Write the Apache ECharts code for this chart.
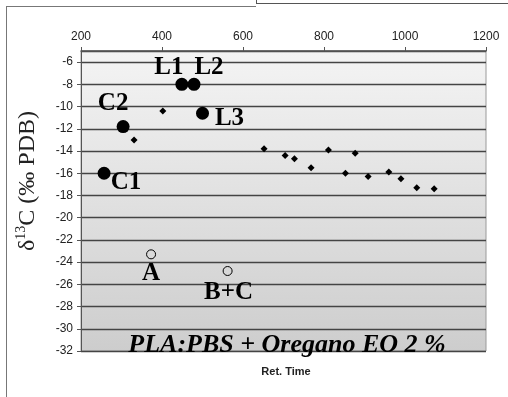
<!DOCTYPE html>
<html>
<head>
<meta charset="utf-8">
<script src="https://cdn.jsdelivr.net/npm/echarts@6/dist/echarts.min.js"></script>
<style>
  html, body { margin: 0; padding: 0; background: #fff; }
  #chart { width: 508px; height: 397px; }
</style>
</head>
<body>
<div id="chart"></div>
<script>
// Identified compounds (filled circles)
const compoundNames = ['C1', 'C2', 'L1', 'L2', 'L3'];
const compoundRetTime = [257, 304, 449, 479, 500];
const compoundDelta = [-16.0, -11.8, -8.0, -8.0, -10.6];

// Other volatile peaks (small diamonds)
const peakRetTime = [331, 402, 652, 704, 727, 768, 811, 853, 877, 909, 960, 990, 1029, 1072];
const peakDelta = [-13.0, -10.4, -13.8, -14.4, -14.7, -15.5, -13.9, -16.0, -14.2, -16.3, -15.9, -16.5, -17.3, -17.4];

// Reference points (open circles)
const refNames = ['A', 'B+C'];
const refRetTime = [373, 562];
const refDelta = [-23.3, -24.8];

// Axis ticks
const xTicks = [200, 400, 600, 800, 1000, 1200];
const yTicks = [-32, -30, -28, -26, -24, -22, -20, -18, -16, -14, -12, -10, -8, -6];

const chartTitle = 'PLA:PBS + Oregano EO 2 %';
const xTitle = 'Ret. Time';

// Label placement around each marker
const labelOffsets = {
  'C1': [22, 9], 'C2': [-10, -23], 'L1': [-13, -17], 'L2': [15, -17], 'L3': [27, 5],
  'A': [0, 19], 'B+C': [1, 22]
};

const serif = '"Liberation Serif", "Times New Roman", serif';
const sans = '"Liberation Sans", Arial, sans-serif';

function zip(xs, ys, names) {
  return xs.map((x, i) => {
    const d = { value: [x, ys[i]] };
    if (names) {
      d.name = names[i];
      d.label = { offset: labelOffsets[names[i]] };
    }
    return d;
  });
}

const chart = echarts.init(document.getElementById('chart'), null, { renderer: 'canvas' });

const labelStyle = {
  show: true,
  position: 'inside',
  formatter: p => p.name,
  fontFamily: serif,
  fontWeight: 'bold',
  fontSize: 25,
  color: '#000',
  opacity: 1,
  textBorderWidth: 0,
  textBorderColor: 'transparent'
};

chart.setOption({
  animation: false,
  backgroundColor: '#fff',
  grid: {
    left: 81, right: 22, top: 51, bottom: 46,
    show: true,
    borderColor: '#9a9a9a',
    borderWidth: 1,
    backgroundColor: new echarts.graphic.LinearGradient(0, 0, 0, 1, [
      { offset: 0, color: '#f4f4f4' },
      { offset: 1, color: '#cdcdcd' }
    ])
  },
  xAxis: {
    type: 'value',
    position: 'top',
    min: xTicks[0],
    max: xTicks[xTicks.length - 1],
    interval: 200,
    axisLine: { show: true, lineStyle: { color: '#555', width: 1.5 } },
    axisTick: { show: true, inside: false, length: 4, lineStyle: { color: '#555' } },
    axisLabel: { fontFamily: sans, fontSize: 12, color: '#222', margin: 8, formatter: v => String(v) },
    splitLine: { show: false }
  },
  yAxis: {
    type: 'value',
    min: yTicks[0],
    max: -5,
    interval: 2,
    axisLine: { show: true, lineStyle: { color: '#555', width: 1 } },
    axisTick: { show: true, inside: false, length: 4, lineStyle: { color: '#555' } },
    axisLabel: { fontFamily: sans, fontSize: 12, color: '#222', margin: 8, showMaxLabel: false, formatter: v => String(v) },
    splitLine: { show: true, lineStyle: { color: '#444', width: 1.4 } }
  },
  title: {
    text: chartTitle,
    left: 282,
    top: 327,
    textAlign: 'center',
    textStyle: { fontFamily: serif, fontStyle: 'italic', fontWeight: 'bold', fontSize: 26, color: '#000' }
  },
  graphic: [
    { type: 'line', shape: { x1: 6.5, y1: 6, x2: 6.5, y2: 397 }, style: { stroke: '#777', lineWidth: 1 } },
    { type: 'line', shape: { x1: 6, y1: 6.5, x2: 256, y2: 6.5 }, style: { stroke: '#777', lineWidth: 1 } },
    { type: 'line', shape: { x1: 256.5, y1: 0, x2: 256.5, y2: 3.5 }, style: { stroke: '#555', lineWidth: 1 } },
    { type: 'line', shape: { x1: 256, y1: 3.5, x2: 508, y2: 3.5 }, style: { stroke: '#555', lineWidth: 1 } },
    {
      type: 'text', x: 286, y: 372,
      style: { text: xTitle, fontFamily: sans, fontWeight: 'bold', fontSize: 11, fill: '#222', align: 'center', verticalAlign: 'middle' }
    },
    {
      type: 'text', x: 28, y: 181, rotation: Math.PI / 2,
      style: {
        text: '{m|δ}{s|13}{m|C (‰ PDB)}',
        align: 'center', verticalAlign: 'middle',
        rich: {
          m: { fontFamily: serif, fontSize: 24, fill: '#222', lineHeight: 28 },
          s: { fontFamily: serif, fontSize: 14, fill: '#222', lineHeight: 28, verticalAlign: 'top' }
        }
      }
    }
  ],
  series: [
    {
      type: 'scatter',
      symbol: 'circle',
      symbolSize: 13,
      itemStyle: { color: '#000', opacity: 1 },
      label: labelStyle,
      data: zip(compoundRetTime, compoundDelta, compoundNames)
    },
    {
      type: 'scatter',
      symbol: 'diamond',
      symbolSize: 7,
      itemStyle: { color: '#000', opacity: 1 },
      data: zip(peakRetTime, peakDelta)
    },
    {
      type: 'scatter',
      symbol: 'circle',
      symbolSize: 9,
      itemStyle: { color: 'rgba(255,255,255,0)', borderColor: '#000', borderWidth: 1, opacity: 1 },
      label: labelStyle,
      data: zip(refRetTime, refDelta, refNames)
    }
  ]
});
</script>
</body>
</html>
